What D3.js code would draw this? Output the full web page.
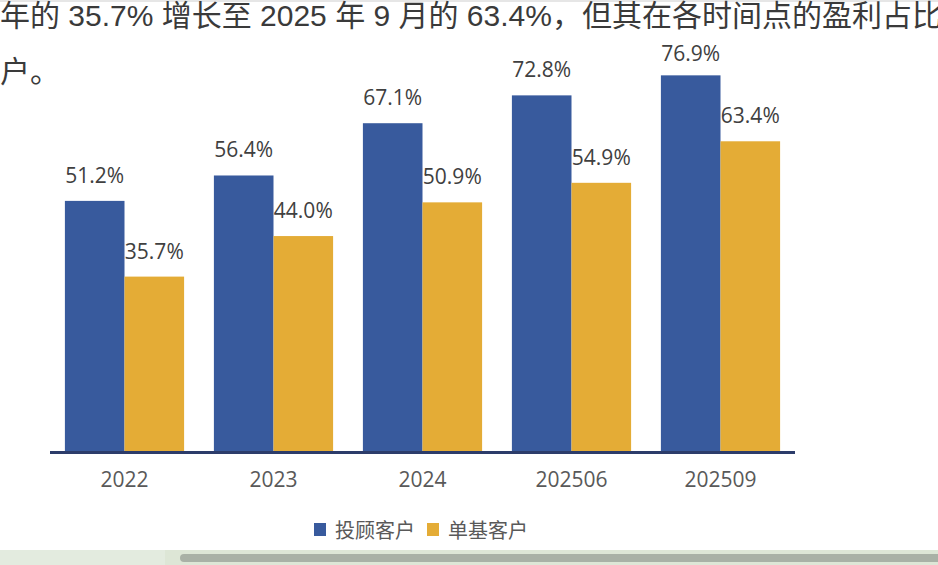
<!DOCTYPE html>
<html><head><meta charset="utf-8">
<script src="https://cdn.jsdelivr.net/npm/d3@7/dist/d3.min.js"></script>
<style>
html,body{margin:0;padding:0;background:#fff;overflow:hidden;}
svg{display:block;}
</style></head>
<body>
<script>
const categories = ["2022", "2023", "2024", "202506", "202509"];
const seriesNames = ["投顾客户", "单基客户"];
const advisorValues = [51.2, 56.4, 67.1, 72.8, 76.9];
const singleFundValues = [35.7, 44.0, 50.9, 54.9, 63.4];
const colors = ["#385a9d", "#e4ac36"];
const paragraphLines = ["年的 35.7% 增长至 2025 年 9 月的 63.4%，但其在各时间点的盈利占比", "户。"];

const W = 938, H = 565;
const svg = d3.select("body").append("svg").attr("width", W).attr("height", H);

// paragraph text (cropped article text above the chart)
svg.append("rect").attr("x",0).attr("y",0).attr("width",W).attr("height",2).attr("fill","#e6e6e6");
svg.selectAll("text.para").data(paragraphLines).join("text")
  .attr("class","para")
  .attr("x", 0).attr("y", (d,i) => 26 + i*56)
  .attr("font-family", "'Liberation Sans','Noto Sans CJK SC',sans-serif")
  .attr("font-size", 30).attr("fill", "#3a3a3a")
  .text(d => d);

const x0 = d3.scaleBand().domain(categories).range([50, 795]).paddingInner(0.2).paddingOuter(0.1);
const x1 = d3.scaleBand().domain(seriesNames).range([0, x0.bandwidth()]);
const y = d3.scaleLinear().domain([0, 100]).range([451, 451 - 488.5]);

const data = categories.map((c, i) => ({cat: c, vals: [advisorValues[i], singleFundValues[i]]}));

const g = svg.append("g");
const groups = g.selectAll("g.grp").data(data).join("g").attr("class","grp")
  .attr("transform", d => `translate(${x0(d.cat)},0)`);

groups.selectAll("rect").data(d => d.vals.map((v, j) => ({v, s: seriesNames[j], j})))
  .join("rect")
  .attr("x", d => x1(d.s)).attr("width", x1.bandwidth())
  .attr("y", d => y(d.v)).attr("height", d => y(0) - y(d.v))
  .attr("fill", d => colors[d.j]);

groups.selectAll("text").data(d => d.vals.map((v, j) => ({v, s: seriesNames[j], j})))
  .join("text")
  .attr("x", d => x1(d.s) + x1.bandwidth()/2)
  .attr("y", d => Math.max(y(d.v) - 18, 61))
  .attr("text-anchor", "middle")
  .attr("font-family", "'Open Sans',sans-serif").attr("font-size", 21)
  .attr("fill", "#404040")
  .text(d => d.v.toFixed(1) + "%");

// x axis
const xAxis = d3.axisBottom(x0).tickSize(0).tickPadding(0);
const ax = svg.append("g").attr("transform", "translate(0,452)").call(xAxis);
ax.select(".domain").remove();
ax.selectAll("text").attr("font-family", "'Open Sans',sans-serif").attr("font-size", 21)
  .attr("fill", "#595959").attr("dy", null).attr("y", 35);
svg.append("line").attr("x1", 50).attr("x2", 795).attr("y1", 452.5).attr("y2", 452.5)
  .attr("stroke", "#2c3c6a").attr("stroke-width", 3);

// legend
const legendItems = [{name: seriesNames[0], x: 314}, {name: seriesNames[1], x: 427}];
const lg = svg.selectAll("g.lg").data(legendItems).join("g").attr("class","lg")
  .attr("transform", d => `translate(${d.x},523)`);
lg.append("rect").attr("width", 12).attr("height", 13).attr("fill", (d,i) => colors[i]);
lg.append("text").attr("x", 21).attr("y", 14.5)
  .attr("font-family", "'Noto Sans CJK SC',sans-serif").attr("font-size", 20)
  .attr("fill", "#595959").text(d => d.name);

// bottom scroll strip
svg.append("rect").attr("x",0).attr("y",550).attr("width",W).attr("height",15).attr("fill","#dde6d6");
svg.append("rect").attr("x",0).attr("y",550).attr("width",165).attr("height",15).attr("fill","#e3ebdf");
svg.append("rect").attr("x",180).attr("y",554).attr("width",W).attr("height",8).attr("rx",4).attr("fill","#a9b1a6");
</script>
</body></html>
